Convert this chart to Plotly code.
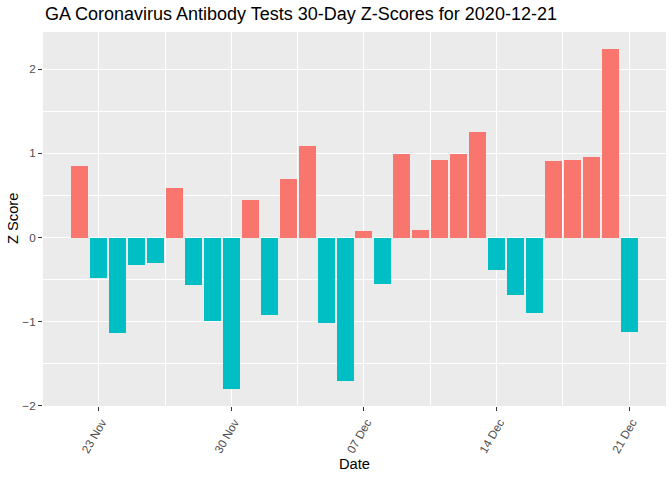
import plotly.graph_objects as go
import pandas as pd

dates = pd.date_range("2020-11-22", "2020-12-21", freq="D")
zscores = [0.85, -0.48, -1.13, -0.33, -0.30, 0.59, -0.57, -0.99, -1.80, 0.45,
           -0.92, 0.70, 1.09, -1.02, -1.70, 0.08, -0.55, 0.99, 0.09, 0.92,
           0.99, 1.25, -0.38, -0.68, -0.90, 0.91, 0.92, 0.96, 2.24, -1.12]
tick_dates = ["2020-11-23", "2020-11-30", "2020-12-07", "2020-12-14", "2020-12-21"]
y_ticks = [-2, -1, 0, 1, 2]
title_text = "GA Coronavirus Antibody Tests 30-Day Z-Scores for 2020-12-21"

colors = ["#F8766D" if v > 0 else "#00BFC4" for v in zscores]
day_ms = 86400000

fig = go.Figure(go.Bar(
    x=dates, y=zscores, marker=dict(color=colors, line=dict(width=0)),
    width=0.9 * day_ms, showlegend=False, hoverinfo="x+y",
))

x0 = pd.Timestamp("2020-11-22") - pd.Timedelta(hours=0.45 * 24)
x1 = pd.Timestamp("2020-12-21") + pd.Timedelta(hours=0.45 * 24)
span = x1 - x0
xr = [x0 - span * 0.05, x1 + span * 0.05]
ymin, ymax = min(zscores), max(zscores)
yspan = ymax - ymin
yr = [ymin - 0.05 * yspan, ymax + 0.05 * yspan]

W, H = 672, 480
L, R, T, B = 43, 6, 32, 74

fig.update_layout(
    width=W, height=H,
    margin=dict(l=L, r=R, t=T, b=B, autoexpand=False),
    paper_bgcolor="white", plot_bgcolor="#EBEBEB",
    font=dict(family="Liberation Sans, Arial, sans-serif", color="#000000"),
    bargap=0,
    annotations=[
        dict(text=title_text, xref="paper", yref="paper", x=0,
             y=1 + (T - 14) / (H - T - B), xanchor="left", yanchor="middle",
             showarrow=False, font=dict(size=18, color="#000000")),
        dict(text="Date", xref="paper", yref="paper", x=0.5,
             y=-(464 - (H - B)) / (H - T - B), xanchor="center", yanchor="middle",
             showarrow=False, font=dict(size=14.7, color="#000000")),
        dict(text="Z Score", xref="paper", yref="paper", x=-(L - 13) / (W - L - R),
             y=0.5, xanchor="center", yanchor="middle", textangle=-90,
             showarrow=False, font=dict(size=14.7, color="#000000")),
    ],
)
fig.update_xaxes(
    range=xr, tickmode="array", tickvals=tick_dates, tickformat="%d %b",
    tickangle=-60, ticks="outside", ticklen=4, tickcolor="#333333", tickwidth=1,
    tickfont=dict(size=11.7, color="#4D4D4D"), automargin=False,
    ticklabelshift=3,
    showgrid=True, gridcolor="white", gridwidth=1.1, zeroline=False,
    showline=False,
    minor=dict(tick0="2020-11-19 12:00", dtick=7 * day_ms, showgrid=True,
               gridcolor="white", gridwidth=0.55, ticks=""),
)
fig.update_yaxes(
    range=yr, tickmode="array", tickvals=y_ticks,
    ticks="outside", ticklen=4, tickcolor="#333333", tickwidth=1,
    tickfont=dict(size=11.7, color="#4D4D4D"), automargin=False,
    showgrid=True, gridcolor="white", gridwidth=1.1, zeroline=False,
    showline=False,
    minor=dict(tick0=-1.5, dtick=1, showgrid=True, gridcolor="white",
               gridwidth=0.55, ticks=""),
)

fig.write_html("out.html", config={"displayModeBar": False},
               post_script="document.body.style.margin='0';document.body.style.overflow='hidden';")
